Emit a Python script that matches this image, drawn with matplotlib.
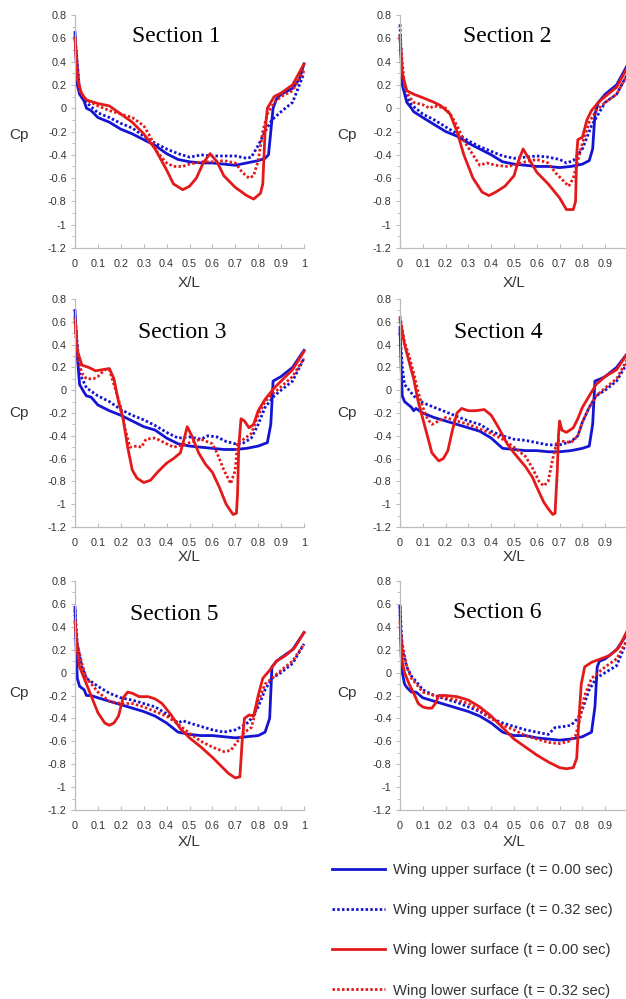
import matplotlib
matplotlib.use("Agg")
import matplotlib.pyplot as plt
from matplotlib.ticker import MultipleLocator, FixedLocator

# ---------------- data ----------------
SECTIONS = ["Section 1", "Section 2", "Section 3", "Section 4", "Section 5", "Section 6"]
LEGEND_LABELS = ["Wing upper surface (t = 0.00 sec)",
                 "Wing upper surface (t = 0.32 sec)",
                 "Wing lower surface (t = 0.00 sec)",
                 "Wing lower surface (t = 0.32 sec)"]
X_TICKS = [0, 0.1, 0.2, 0.3, 0.4, 0.5, 0.6, 0.7, 0.8, 0.9, 1]
X_TICK_LABELS = ["0", "0.1", "0.2", "0.3", "0.4", "0.5", "0.6", "0.7", "0.8", "0.9", "1"]
Y_TICKS = [-1.2, -1, -0.8, -0.6, -0.4, -0.2, 0, 0.2, 0.4, 0.6, 0.8]
Y_TICK_LABELS = ["-1.2", "-1", "-0.8", "-0.6", "-0.4", "-0.2", "0", "0.2", "0.4", "0.6", "0.8"]

# Section 1
S1_UP0_X = [0, 0.01, 0.02, 0.04, 0.05, 0.07, 0.1, 0.15, 0.2, 0.25, 0.3, 0.35, 0.4, 0.45, 0.5, 0.55, 0.6, 0.65, 0.7, 0.75, 0.8, 0.83, 0.845, 0.855, 0.865, 0.88, 0.9, 0.95, 0.98, 1.0]
S1_UP0_Y = [0.65, 0.2, 0.12, 0.06, 0.0, -0.02, -0.08, -0.12, -0.18, -0.22, -0.27, -0.32, -0.39, -0.44, -0.46, -0.47, -0.47, -0.48, -0.49, -0.47, -0.45, -0.43, -0.4, -0.2, 0.0, 0.08, 0.12, 0.17, 0.25, 0.38]
S1_UP32_X = [0, 0.02, 0.05, 0.1, 0.15, 0.2, 0.25, 0.3, 0.35, 0.4, 0.45, 0.5, 0.53, 0.55, 0.6, 0.65, 0.7, 0.75, 0.77, 0.8, 0.83, 0.86, 0.9, 0.95, 1.0]
S1_UP32_Y = [0.62, 0.15, 0.05, -0.04, -0.08, -0.13, -0.17, -0.24, -0.3, -0.35, -0.39, -0.42, -0.41, -0.4, -0.41, -0.41, -0.41, -0.43, -0.42, -0.32, -0.2, -0.1, -0.03, 0.05, 0.3]
S1_LO0_X = [0, 0.01, 0.03, 0.05, 0.1, 0.15, 0.2, 0.25, 0.3, 0.35, 0.4, 0.43, 0.47, 0.5, 0.53, 0.56, 0.59, 0.62, 0.65, 0.7, 0.75, 0.78, 0.81, 0.82, 0.83, 0.84, 0.87, 0.9, 0.95, 1.0]
S1_LO0_Y = [0.6, 0.25, 0.12, 0.07, 0.04, 0.02, -0.05, -0.12, -0.22, -0.35, -0.53, -0.65, -0.7, -0.67, -0.6, -0.47, -0.39, -0.46, -0.58, -0.68, -0.75, -0.78, -0.73, -0.65, -0.2, 0.0, 0.1, 0.13, 0.2, 0.38]
S1_LO32_X = [0, 0.02, 0.05, 0.1, 0.15, 0.2, 0.25, 0.3, 0.33, 0.36, 0.4, 0.43, 0.47, 0.5, 0.55, 0.6, 0.65, 0.7, 0.73, 0.76, 0.78, 0.8, 0.82, 0.84, 0.87, 0.9, 0.95, 1.0]
S1_LO32_Y = [0.6, 0.15, 0.07, 0.02, -0.02, -0.05, -0.08, -0.15, -0.25, -0.38, -0.47, -0.5, -0.5, -0.48, -0.46, -0.46, -0.45, -0.47, -0.55, -0.6, -0.58, -0.45, -0.2, -0.05, 0.05, 0.1, 0.15, 0.32]

# Section 2
S2_UP0_X = [0, 0.01, 0.03, 0.05, 0.06, 0.1, 0.15, 0.2, 0.25, 0.3, 0.35, 0.4, 0.45, 0.5, 0.55, 0.6, 0.65, 0.7, 0.75, 0.8, 0.83, 0.845, 0.855, 0.87, 0.9, 0.95, 1.0]
S2_UP0_Y = [0.62, 0.2, 0.05, 0.0, -0.03, -0.08, -0.14, -0.2, -0.24, -0.3, -0.35, -0.4, -0.46, -0.48, -0.49, -0.5, -0.5, -0.51, -0.5, -0.48, -0.45, -0.35, -0.05, 0.05, 0.12, 0.2, 0.38]
S2_UP32_X = [0, 0.01, 0.03, 0.05, 0.1, 0.15, 0.2, 0.25, 0.3, 0.35, 0.4, 0.45, 0.5, 0.55, 0.6, 0.65, 0.7, 0.73, 0.76, 0.8, 0.84, 0.87, 0.9, 0.95, 1.0]
S2_UP32_Y = [0.72, 0.25, 0.1, 0.03, -0.05, -0.1, -0.16, -0.22, -0.28, -0.33, -0.37, -0.41, -0.43, -0.42, -0.41, -0.42, -0.44, -0.47, -0.45, -0.35, -0.15, -0.05, 0.05, 0.12, 0.3]
S2_LO0_X = [0, 0.01, 0.03, 0.06, 0.1, 0.15, 0.18, 0.22, 0.25, 0.28, 0.32, 0.36, 0.39, 0.42, 0.46, 0.5, 0.52, 0.54, 0.57, 0.6, 0.65, 0.7, 0.73, 0.76, 0.77, 0.775, 0.78, 0.8, 0.82, 0.84, 0.87, 0.9, 0.95, 1.0]
S2_LO0_Y = [0.62, 0.3, 0.15, 0.12, 0.09, 0.05, 0.02, -0.05, -0.2, -0.4, -0.6, -0.72, -0.75, -0.72, -0.67, -0.58, -0.45, -0.35, -0.45, -0.55, -0.65, -0.77, -0.87, -0.87, -0.8, -0.4, -0.27, -0.25, -0.1, -0.02, 0.05, 0.1, 0.18, 0.36]
S2_LO32_X = [0, 0.02, 0.04, 0.06, 0.1, 0.13, 0.15, 0.2, 0.22, 0.25, 0.28, 0.32, 0.35, 0.38, 0.42, 0.47, 0.5, 0.55, 0.6, 0.65, 0.68, 0.72, 0.74, 0.76, 0.78, 0.8, 0.83, 0.86, 0.9, 0.95, 1.0]
S2_LO32_Y = [0.6, 0.18, 0.1, 0.05, 0.03, 0.0, 0.02, 0.0, -0.05, -0.15, -0.28, -0.4, -0.49, -0.47, -0.49, -0.5, -0.49, -0.46, -0.44, -0.47, -0.55, -0.63, -0.67, -0.6, -0.45, -0.3, -0.12, -0.02, 0.05, 0.12, 0.3]

# Section 3
S3_UP0_X = [0, 0.01, 0.02, 0.04, 0.05, 0.07, 0.1, 0.15, 0.2, 0.25, 0.3, 0.35, 0.4, 0.45, 0.5, 0.55, 0.6, 0.65, 0.7, 0.75, 0.8, 0.84, 0.855, 0.865, 0.9, 0.95, 1.0]
S3_UP0_Y = [0.7, 0.3, 0.05, -0.02, -0.05, -0.06, -0.13, -0.18, -0.22, -0.27, -0.32, -0.35, -0.42, -0.47, -0.49, -0.5, -0.51, -0.52, -0.52, -0.51, -0.49, -0.46, -0.3, 0.08, 0.12, 0.2, 0.35]
S3_UP32_X = [0, 0.02, 0.05, 0.1, 0.15, 0.2, 0.25, 0.3, 0.35, 0.4, 0.45, 0.5, 0.55, 0.58, 0.62, 0.66, 0.7, 0.73, 0.77, 0.8, 0.83, 0.87, 0.9, 0.95, 1.0]
S3_UP32_Y = [0.65, 0.15, 0.02, -0.05, -0.1, -0.17, -0.22, -0.26, -0.31, -0.37, -0.42, -0.41, -0.43, -0.4, -0.41, -0.45, -0.47, -0.47, -0.42, -0.3, -0.15, -0.05, 0.0, 0.08, 0.28]
S3_LO0_X = [0, 0.01, 0.03, 0.06, 0.09, 0.12, 0.15, 0.17, 0.19, 0.21, 0.23, 0.25, 0.27, 0.3, 0.33, 0.36, 0.4, 0.43, 0.46, 0.48, 0.49, 0.51, 0.54, 0.57, 0.6, 0.63, 0.66, 0.69, 0.705, 0.71, 0.715, 0.725, 0.74, 0.76, 0.78, 0.8, 0.83, 0.87, 0.9, 0.95, 1.0]
S3_LO0_Y = [0.62, 0.35, 0.22, 0.2, 0.17, 0.18, 0.19, 0.1, -0.1, -0.25, -0.5, -0.7, -0.77, -0.81, -0.79, -0.72, -0.64, -0.6, -0.55, -0.4, -0.32, -0.4, -0.55, -0.65, -0.72, -0.85, -1.0, -1.09, -1.08, -0.9, -0.5, -0.25, -0.27, -0.33, -0.3, -0.18, -0.08, 0.02, 0.08, 0.18, 0.34]
S3_LO32_X = [0, 0.01, 0.03, 0.05, 0.08, 0.1, 0.13, 0.15, 0.17, 0.2, 0.22, 0.24, 0.27, 0.29, 0.31, 0.35, 0.4, 0.43, 0.47, 0.5, 0.55, 0.6, 0.62, 0.65, 0.68, 0.7, 0.71, 0.73, 0.77, 0.8, 0.83, 0.87, 0.9, 0.95, 1.0]
S3_LO32_Y = [0.6, 0.3, 0.15, 0.1, 0.1, 0.12, 0.18, 0.18, 0.05, -0.15, -0.35, -0.5, -0.49, -0.5, -0.43, -0.42, -0.47, -0.5, -0.48, -0.46, -0.43, -0.47, -0.55, -0.7, -0.82, -0.7, -0.45, -0.44, -0.38, -0.22, -0.1, -0.02, 0.03, 0.12, 0.28]

# Section 4
S4_UP0_X = [0, 0.005, 0.01, 0.02, 0.05, 0.06, 0.07, 0.1, 0.15, 0.2, 0.25, 0.3, 0.35, 0.4, 0.45, 0.5, 0.55, 0.6, 0.65, 0.7, 0.75, 0.8, 0.83, 0.845, 0.855, 0.88, 0.9, 0.95, 1.0]
S4_UP0_Y = [0.55, 0.2, -0.05, -0.1, -0.15, -0.18, -0.16, -0.2, -0.24, -0.27, -0.3, -0.33, -0.36, -0.42, -0.51, -0.52, -0.53, -0.53, -0.54, -0.54, -0.53, -0.51, -0.49, -0.3, 0.08, 0.1, 0.12, 0.2, 0.33]
S4_UP32_X = [0, 0.01, 0.02, 0.04, 0.06, 0.1, 0.15, 0.2, 0.25, 0.3, 0.35, 0.4, 0.45, 0.5, 0.55, 0.6, 0.65, 0.7, 0.75, 0.78, 0.8, 0.83, 0.86, 0.9, 0.95, 1.0]
S4_UP32_Y = [0.5, 0.2, 0.05, 0.0, -0.05, -0.11, -0.15, -0.19, -0.23, -0.27, -0.3, -0.36, -0.4, -0.43, -0.44, -0.46, -0.48, -0.48, -0.45, -0.4, -0.28, -0.15, -0.05, 0.0, 0.08, 0.25]
S4_LO0_X = [0, 0.02, 0.04, 0.06, 0.08, 0.1, 0.12, 0.14, 0.17, 0.19, 0.21, 0.23, 0.25, 0.27, 0.3, 0.33, 0.37, 0.4, 0.43, 0.47, 0.5, 0.55, 0.58, 0.6, 0.63, 0.65, 0.67, 0.68, 0.69, 0.695, 0.7, 0.71, 0.73, 0.76, 0.78, 0.8, 0.83, 0.86, 0.9, 0.95, 1.0]
S4_LO0_Y = [0.62, 0.4, 0.25, 0.1, -0.1, -0.25, -0.4, -0.55, -0.62, -0.6, -0.53, -0.35, -0.2, -0.16, -0.18, -0.18, -0.17, -0.22, -0.32, -0.47, -0.55, -0.67, -0.76, -0.85, -0.98, -1.04, -1.09, -1.08, -0.7, -0.4, -0.27, -0.35, -0.37, -0.33, -0.25, -0.15, -0.05, 0.05, 0.12, 0.18, 0.33]
S4_LO32_X = [0, 0.02, 0.04, 0.06, 0.08, 0.1, 0.12, 0.14, 0.16, 0.2, 0.25, 0.3, 0.35, 0.4, 0.45, 0.5, 0.55, 0.58, 0.61, 0.63, 0.65, 0.67, 0.69, 0.72, 0.75, 0.78, 0.8, 0.83, 0.86, 0.9, 0.95, 1.0]
S4_LO32_Y = [0.65, 0.42, 0.3, 0.15, -0.02, -0.15, -0.25, -0.3, -0.28, -0.24, -0.27, -0.3, -0.34, -0.38, -0.43, -0.5, -0.58, -0.68, -0.8, -0.84, -0.8, -0.6, -0.44, -0.45, -0.46, -0.4, -0.28, -0.15, -0.05, 0.02, 0.1, 0.28]

# Section 5
S5_UP0_X = [0, 0.005, 0.01, 0.02, 0.04, 0.05, 0.07, 0.1, 0.15, 0.2, 0.25, 0.3, 0.35, 0.4, 0.45, 0.5, 0.55, 0.6, 0.65, 0.7, 0.75, 0.8, 0.83, 0.85, 0.86, 0.88, 0.9, 0.95, 1.0]
S5_UP0_Y = [0.57, 0.2, -0.05, -0.12, -0.15, -0.2, -0.2, -0.22, -0.25, -0.28, -0.31, -0.34, -0.38, -0.44, -0.52, -0.54, -0.55, -0.55, -0.56, -0.57, -0.56, -0.55, -0.52, -0.4, 0.05, 0.1, 0.13, 0.2, 0.35]
S5_UP32_X = [0, 0.01, 0.03, 0.05, 0.1, 0.15, 0.2, 0.25, 0.3, 0.35, 0.4, 0.45, 0.47, 0.5, 0.55, 0.6, 0.65, 0.7, 0.73, 0.76, 0.8, 0.83, 0.86, 0.9, 0.95, 1.0]
S5_UP32_Y = [0.55, 0.25, 0.05, -0.05, -0.12, -0.18, -0.22, -0.24, -0.27, -0.3, -0.36, -0.44, -0.42, -0.44, -0.47, -0.5, -0.52, -0.5, -0.47, -0.43, -0.3, -0.15, -0.05, 0.0, 0.08, 0.25]
S5_LO0_X = [0, 0.01, 0.02, 0.04, 0.06, 0.08, 0.1, 0.13, 0.15, 0.17, 0.19, 0.21, 0.23, 0.25, 0.28, 0.32, 0.35, 0.38, 0.42, 0.46, 0.5, 0.55, 0.6, 0.64, 0.67, 0.7, 0.72, 0.73, 0.74, 0.76, 0.78, 0.8, 0.82, 0.85, 0.88, 0.92, 0.96, 1.0]
S5_LO0_Y = [0.45, 0.2, 0.05, -0.05, -0.15, -0.25, -0.35, -0.44, -0.46, -0.44, -0.38, -0.22, -0.17, -0.18, -0.21, -0.21, -0.23, -0.27, -0.37, -0.49, -0.57, -0.65, -0.74, -0.82, -0.88, -0.92, -0.91, -0.6, -0.4, -0.37, -0.38, -0.2, -0.05, 0.02, 0.1, 0.15, 0.22, 0.35]
S5_LO32_X = [0, 0.01, 0.03, 0.05, 0.08, 0.1, 0.15, 0.2, 0.25, 0.3, 0.35, 0.4, 0.45, 0.5, 0.55, 0.6, 0.65, 0.68, 0.71, 0.74, 0.77, 0.8, 0.83, 0.86, 0.9, 0.95, 1.0]
S5_LO32_Y = [0.45, 0.25, 0.08, -0.05, -0.12, -0.17, -0.25, -0.27, -0.27, -0.3, -0.34, -0.38, -0.45, -0.53, -0.6, -0.65, -0.69, -0.68, -0.6, -0.52, -0.48, -0.25, -0.1, -0.05, 0.02, 0.1, 0.25]

# Section 6
S6_UP0_X = [0, 0.005, 0.01, 0.02, 0.03, 0.05, 0.07, 0.1, 0.15, 0.2, 0.25, 0.3, 0.35, 0.4, 0.45, 0.5, 0.55, 0.6, 0.65, 0.7, 0.75, 0.8, 0.84, 0.855, 0.865, 0.875, 0.9, 0.95, 1.0]
S6_UP0_Y = [0.58, 0.15, 0.0, -0.1, -0.13, -0.17, -0.17, -0.22, -0.25, -0.28, -0.31, -0.34, -0.38, -0.44, -0.52, -0.55, -0.55, -0.57, -0.58, -0.59, -0.58, -0.56, -0.52, -0.3, 0.05, 0.1, 0.12, 0.2, 0.35]
S6_UP32_X = [0, 0.01, 0.03, 0.05, 0.08, 0.1, 0.15, 0.2, 0.25, 0.3, 0.35, 0.4, 0.45, 0.5, 0.55, 0.6, 0.65, 0.68, 0.72, 0.75, 0.78, 0.8, 0.83, 0.86, 0.9, 0.95, 1.0]
S6_UP32_Y = [0.58, 0.2, 0.05, -0.03, -0.1, -0.15, -0.2, -0.23, -0.26, -0.3, -0.34, -0.4, -0.44, -0.47, -0.5, -0.52, -0.54, -0.48, -0.47, -0.46, -0.4, -0.32, -0.15, -0.05, 0.0, 0.06, 0.3]
S6_LO0_X = [0, 0.01, 0.02, 0.04, 0.06, 0.08, 0.1, 0.12, 0.14, 0.155, 0.17, 0.2, 0.25, 0.3, 0.35, 0.4, 0.45, 0.5, 0.55, 0.6, 0.65, 0.7, 0.73, 0.76, 0.775, 0.785, 0.795, 0.81, 0.84, 0.88, 0.92, 0.96, 1.0]
S6_LO0_Y = [0.45, 0.1, 0.0, -0.1, -0.18, -0.27, -0.3, -0.31, -0.31, -0.27, -0.2, -0.2, -0.21, -0.24, -0.3, -0.38, -0.48, -0.58, -0.65, -0.72, -0.78, -0.83, -0.84, -0.83, -0.75, -0.4, -0.1, 0.05, 0.09, 0.12, 0.15, 0.22, 0.38]
S6_LO32_X = [0, 0.01, 0.03, 0.05, 0.08, 0.1, 0.15, 0.2, 0.25, 0.3, 0.35, 0.4, 0.45, 0.5, 0.55, 0.6, 0.65, 0.7, 0.74, 0.77, 0.79, 0.81, 0.84, 0.87, 0.9, 0.95, 1.0]
S6_LO32_Y = [0.4, 0.25, 0.05, -0.05, -0.12, -0.17, -0.2, -0.22, -0.24, -0.27, -0.33, -0.4, -0.46, -0.5, -0.55, -0.58, -0.61, -0.62, -0.6, -0.55, -0.4, -0.2, -0.05, 0.0, 0.05, 0.12, 0.3]

SERIES = [
    [(S1_UP0_X, S1_UP0_Y), (S1_UP32_X, S1_UP32_Y), (S1_LO0_X, S1_LO0_Y), (S1_LO32_X, S1_LO32_Y)],
    [(S2_UP0_X, S2_UP0_Y), (S2_UP32_X, S2_UP32_Y), (S2_LO0_X, S2_LO0_Y), (S2_LO32_X, S2_LO32_Y)],
    [(S3_UP0_X, S3_UP0_Y), (S3_UP32_X, S3_UP32_Y), (S3_LO0_X, S3_LO0_Y), (S3_LO32_X, S3_LO32_Y)],
    [(S4_UP0_X, S4_UP0_Y), (S4_UP32_X, S4_UP32_Y), (S4_LO0_X, S4_LO0_Y), (S4_LO32_X, S4_LO32_Y)],
    [(S5_UP0_X, S5_UP0_Y), (S5_UP32_X, S5_UP32_Y), (S5_LO0_X, S5_LO0_Y), (S5_LO32_X, S5_LO32_Y)],
    [(S6_UP0_X, S6_UP0_Y), (S6_UP32_X, S6_UP32_Y), (S6_LO0_X, S6_LO0_Y), (S6_LO32_X, S6_LO32_Y)],
]

# ---------------- styling / layout ----------------
W, H = 626, 999
BLUE = "#1414d2"
RED = "#e41a1a"
STYLES = [
    dict(color=BLUE, lw=2.0, ls="-"),
    dict(color=BLUE, lw=2.0, ls=(0, (0.9, 0.8))),
    dict(color=RED, lw=2.0, ls="-"),
    dict(color=RED, lw=2.0, ls=(0, (0.9, 0.8))),
]
SANS = ["Liberation Sans", "DejaVu Sans"]
SERIF = ["Liberation Serif", "DejaVu Serif"]
TICK_COLOR = "#bdbdbd"
TEXT_COLOR = "#333333"

# axes pixel boxes (left, top, right, bottom)
COL_X = [(75, 304), (400, 628)]
ROW_Y = [(15, 248), (299, 527), (581, 810)]
TITLE_POS = [(176, 37), (507, 37), (182, 333), (498, 332), (174, 615), (497, 613)]
CP_X = [19, 347]
CP_Y = [135, 413, 693]
XL_Y = [283, 557, 842]

fig = plt.figure(figsize=(W / 100, H / 100), dpi=100)
fig.patch.set_facecolor("white")

handles = []
for i in range(6):
    r, c = divmod(i, 2)
    x0, x1 = COL_X[c]
    y0, y1 = ROW_Y[r]
    ax = fig.add_axes([x0 / W, 1 - y1 / H, (x1 - x0) / W, (y1 - y0) / H])
    for (xs, ys), st, lab in zip(SERIES[i], STYLES, LEGEND_LABELS):
        ln, = ax.plot(xs, ys, color=st["color"], lw=st["lw"], ls=st["ls"],
                      label=lab, solid_joinstyle="round", clip_on=False)
        if i == 0:
            handles.append(ln)
    ax.set_xlim(0, 1)
    ax.set_ylim(-1.2, 0.8)
    for s in ["top", "right"]:
        ax.spines[s].set_visible(False)
    for s in ["left", "bottom"]:
        ax.spines[s].set_color(TICK_COLOR)
        ax.spines[s].set_linewidth(0.9)
    ax.xaxis.set_major_locator(FixedLocator(X_TICKS))
    ax.set_xticklabels(X_TICK_LABELS)
    ax.yaxis.set_major_locator(FixedLocator(Y_TICKS))
    ax.set_yticklabels(Y_TICK_LABELS)
    ax.yaxis.set_minor_locator(MultipleLocator(0.1))
    ax.tick_params(axis="x", which="major", direction="in", length=3, width=0.8,
                   color=TICK_COLOR, labelsize=7.8, labelcolor=TEXT_COLOR, pad=8)
    ax.tick_params(axis="y", which="major", direction="out", length=3, width=0.8,
                   color=TICK_COLOR, labelsize=7.8, labelcolor=TEXT_COLOR, pad=3)
    ax.tick_params(axis="y", which="minor", direction="out", length=2, width=0.7,
                   color=TICK_COLOR)
    for t in ax.get_xticklabels() + ax.get_yticklabels():
        t.set_family(SANS)
    tx, ty = TITLE_POS[i]
    fig.text(tx / W, 1 - ty / H, SECTIONS[i], family=SERIF, fontsize=17,
             ha="center", va="center", color="black")
    fig.text(CP_X[c] / W, 1 - CP_Y[r] / H, "Cp", family=SANS, fontsize=11,
             ha="center", va="center", color=TEXT_COLOR)
    fig.text((x0 + x1) / 2 / W, 1 - XL_Y[r] / H, "X/L", family=SANS, fontsize=11,
             ha="center", va="center", color=TEXT_COLOR)

leg = fig.legend(handles=handles, labels=LEGEND_LABELS, loc="upper left",
                 bbox_to_anchor=(332 / W, 1 - 863 / H), frameon=False,
                 prop=dict(family=SANS, size=10.6), handlelength=3.6,
                 handletextpad=0.55, labelspacing=1.78, borderpad=0,
                 borderaxespad=0)
for t in leg.get_texts():
    t.set_color(TEXT_COLOR)

fig.savefig("out.png", dpi=100, facecolor="white")
